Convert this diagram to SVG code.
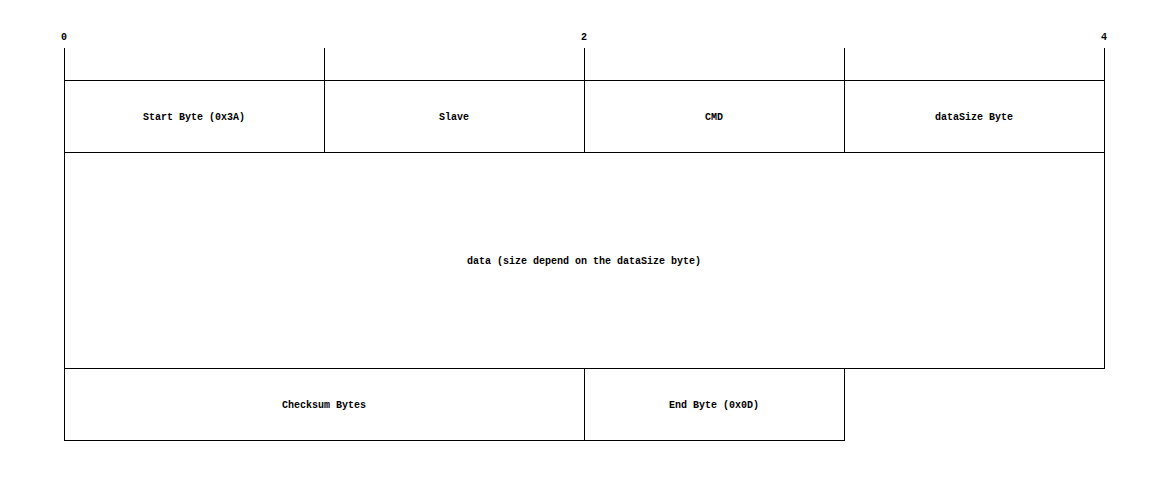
<svg xmlns="http://www.w3.org/2000/svg" width="1168" height="480" viewBox="0 0 1168 480">
<style>
.ln{stroke:#000;stroke-width:1;fill:none;shape-rendering:crispEdges}
.t{font-family:"Liberation Mono","Courier New",monospace;font-size:10px;font-weight:bold;fill:#000;text-anchor:middle;dominant-baseline:middle}
</style>
<rect width="1168" height="480" fill="#fff"/>
<g id="axis">
<text class="t" x="64" y="37">0</text>
<text class="t" x="584" y="37">2</text>
<text class="t" x="1104" y="37">4</text>
</g>
<g id="connectors">
<line class="ln" x1="64.5" y1="48" x2="64.5" y2="80"/>
<line class="ln" x1="324.5" y1="48" x2="324.5" y2="80"/>
<line class="ln" x1="584.5" y1="48" x2="584.5" y2="80"/>
<line class="ln" x1="844.5" y1="48" x2="844.5" y2="80"/>
<line class="ln" x1="1104.5" y1="48" x2="1104.5" y2="80"/>
</g>
<g id="start"><rect class="ln" x="64.5" y="80.5" width="260" height="72"/><text class="t" x="194" y="117">Start Byte (0x3A)</text></g>
<g id="slave"><rect class="ln" x="324.5" y="80.5" width="260" height="72"/><text class="t" x="454" y="117">Slave</text></g>
<g id="cmd"><rect class="ln" x="584.5" y="80.5" width="260" height="72"/><text class="t" x="714" y="117">CMD</text></g>
<g id="datasize"><rect class="ln" x="844.5" y="80.5" width="260" height="72"/><text class="t" x="974" y="117">dataSize Byte</text></g>
<g id="data"><rect class="ln" x="64.5" y="152.5" width="1040" height="216"/><text class="t" x="584" y="261">data (size depend on the dataSize byte)</text></g>
<g id="checksum"><rect class="ln" x="64.5" y="368.5" width="520" height="72"/><text class="t" x="324" y="405">Checksum Bytes</text></g>
<g id="end"><rect class="ln" x="584.5" y="368.5" width="260" height="72"/><text class="t" x="714" y="405">End Byte (0x0D)</text></g>
</svg>
